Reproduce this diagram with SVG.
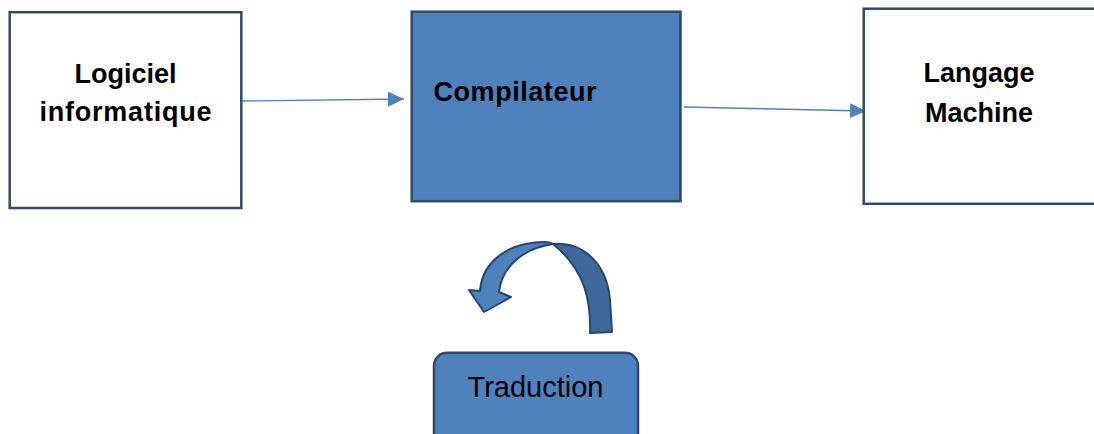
<svg xmlns="http://www.w3.org/2000/svg" width="1094" height="434" viewBox="0 0 1094 434">
  <style>
    .box { fill: #ffffff; stroke: #2f4a6e; stroke-width: 2.5; }
    .box-filled { fill: #4f81bd; stroke: #2f4a6e; stroke-width: 2.5; }
    .label-bold { font-family: "Liberation Sans", Arial, sans-serif; font-weight: bold; font-size: 27px; fill: #000000; text-anchor: middle; }
    .label { font-family: "Liberation Sans", Arial, sans-serif; font-size: 29px; fill: #000000; text-anchor: middle; }
    .link { stroke: #4f81bd; stroke-width: 1.4; fill: none; marker-end: url(#head); }
    .ribbon-front { fill: #4f81bd; stroke: #264670; stroke-width: 2; stroke-linejoin: round; }
    .ribbon-back { fill: #3e6899; stroke: #264670; stroke-width: 2; stroke-linejoin: round; }
  </style>
  <defs>
    <marker id="head" markerUnits="userSpaceOnUse" markerWidth="17" markerHeight="16" refX="16" refY="7.5" orient="auto">
      <path d="M0,0 L16,7.5 L0,15 Z" fill="#4f81bd"/>
    </marker>
  </defs>

  <!-- connectors -->
  <g id="connectors">
    <line class="link" x1="242" y1="101" x2="404" y2="99"/>
    <line class="link" x1="684" y1="107" x2="866" y2="111"/>
  </g>

  <g id="logiciel">
    <rect class="box" x="9.7" y="12.2" width="231.6" height="195.8"/>
    <text class="label-bold" x="125.5" y="83">Logiciel</text>
    <text class="label-bold" x="125.5" y="121" textLength="172">informatique</text>
  </g>

  <g id="compilateur">
    <rect class="box-filled" x="411.7" y="11.7" width="268.8" height="189.5"/>
    <text class="label-bold" x="515" y="100.7" textLength="163">Compilateur</text>
  </g>

  <g id="langage">
    <rect class="box" x="863.7" y="8.7" width="240" height="195.1"/>
    <text class="label-bold" x="979" y="82">Langage</text>
    <text class="label-bold" x="979" y="122">Machine</text>
  </g>

  <!-- curved ribbon arrow above the Traduction box -->
  <g id="cycle-arrow">
    <path class="ribbon-back" d="M553,244 C585,242 607,265 610,300 L612,332 L590,333 C591,300 585,270 553,244 Z"/>
    <path class="ribbon-front" d="M480,291 C482,262 508,242 545,242 C549,242 551,243 553,244 C525,248 502,265 499,292 L511,297 L484,312 L469,290 Z"/>
  </g>

  <g id="traduction">
    <rect class="box-filled" x="434" y="352.8" width="204" height="100" rx="13" ry="13"/>
    <text class="label" x="535.5" y="397">Traduction</text>
  </g>
</svg>
